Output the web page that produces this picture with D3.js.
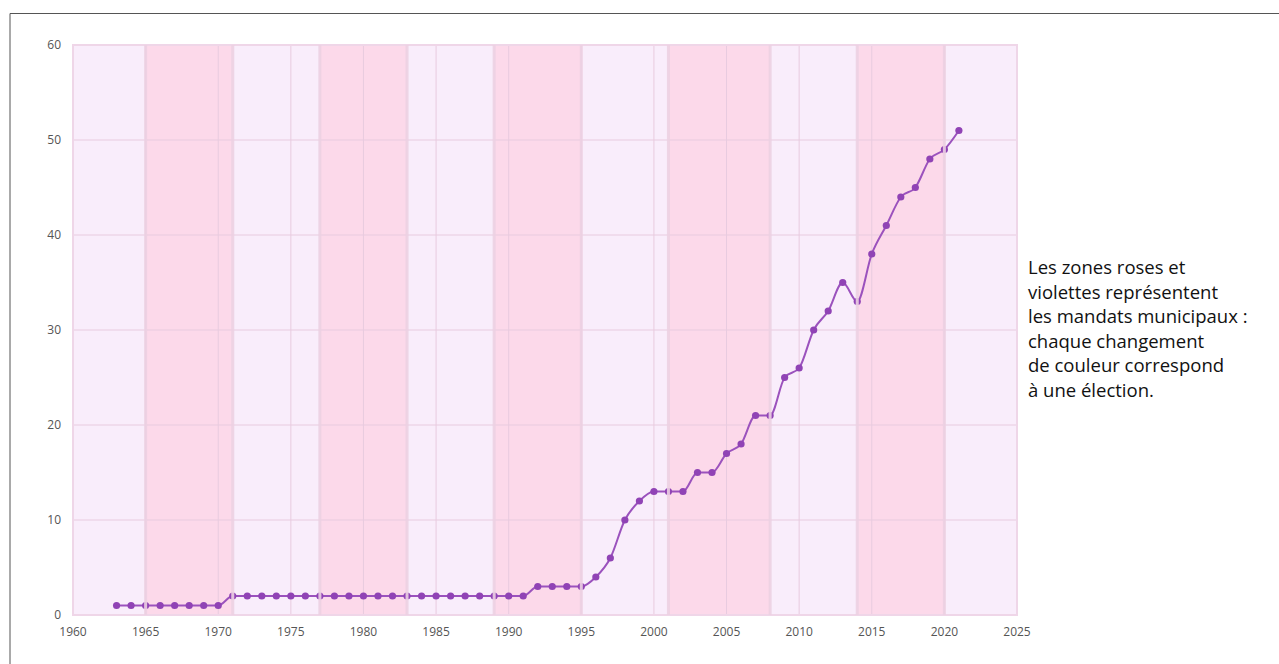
<!DOCTYPE html>
<html>
<head>
<meta charset="utf-8">
<script src="https://cdn.jsdelivr.net/npm/d3@7"></script>
<style>
  body { margin: 0; background: #fff; }
  svg { display: block; }
</style>
</head>
<body>
<div class="chart"></div>
<script>
// data
const years = d3.range(1963, 2022)
const values = [1, 1, 1, 1, 1, 1, 1, 1, 2, 2, 2, 2, 2, 2, 2, 2, 2, 2, 2, 2, 2, 2, 2, 2, 2, 2, 2, 2, 2,
    3, 3, 3, 3, 4, 6, 10, 12, 13, 13, 13, 15, 15, 17, 18, 21, 21, 25, 26, 30, 32, 35, 33, 38, 41, 44, 45, 48, 49, 51]
// municipal mandates : start year of each band
const bandStarts = [1960, 1965, 1971, 1977, 1983, 1989, 1995, 2001, 2008, 2014, 2020]
const bandEnds = [1965, 1971, 1977, 1983, 1989, 1995, 2001, 2008, 2014, 2020, 2025]
const xTicks = d3.range(1960, 2026, 5)
const yTicks = [0, 10, 20, 30, 40, 50, 60]
const noteLines = [
    "Les zones roses et",
    "violettes représentent",
    "les mandats municipaux :",
    "chaque changement",
    "de couleur correspond",
    "à une élection."
]

let width = 1279
let height = 664
let margin = {top: 45, left: 73, right: 262, bottom: 49}

let svg = d3.select(".chart")
    .append("svg")
    .attr("width", width)
    .attr("height", height)

// outer frame
svg.append("path")
    .attr("d", "M10,664 L10,13.5 L1279,13.5")
    .attr("fill", "none")
    .attr("stroke", "#555")
    .attr("stroke-width", 1)

let x = d3.scaleLinear()
    .domain([1960, 2025])
    .range([margin.left, width - margin.right])

let y = d3.scaleLinear()
    .domain([0, 60])
    .range([height - margin.bottom, margin.top])

let bands = bandStarts.map((s, i) => ({start: s, end: bandEnds[i], pink: i % 2 === 1}))

// background bands
svg.selectAll(".band")
    .data(bands)
    .enter()
    .append("rect")
    .attr("x", d => x(d.start))
    .attr("y", y(60))
    .attr("width", d => x(d.end) - x(d.start))
    .attr("height", y(0) - y(60))
    .attr("fill", d => d.pink ? "#fcd9ea" : "#f9edfb")

// grid
svg.append("g")
    .selectAll("line")
    .data(yTicks)
    .enter()
    .append("line")
    .attr("x1", x(1960))
    .attr("x2", x(2025))
    .attr("y1", d => y(d))
    .attr("y2", d => y(d))
    .attr("stroke", "#e8cbdf")
    .attr("stroke-width", 1)

svg.append("g")
    .selectAll("line")
    .data(xTicks)
    .enter()
    .append("line")
    .attr("x1", d => x(d))
    .attr("x2", d => x(d))
    .attr("y1", y(0))
    .attr("y2", y(60))
    .attr("stroke", "#e8cbdf")
    .attr("stroke-width", 1)

// plot border
svg.append("rect")
    .attr("x", x(1960))
    .attr("y", y(60))
    .attr("width", x(2025) - x(1960))
    .attr("height", y(0) - y(60))
    .attr("fill", "none")
    .attr("stroke", "#efd6e8")
    .attr("stroke-width", 2)

// the line
let line = d3.line()
    .x((d, i) => x(years[i]))
    .y(d => y(d))
    .curve(d3.curveMonotoneX)

svg.append("path")
    .datum(values)
    .attr("d", line)
    .attr("fill", "none")
    .attr("stroke", "#9b52bd")
    .attr("stroke-width", 2)

svg.selectAll(".dot")
    .data(values)
    .enter()
    .append("circle")
    .attr("cx", (d, i) => x(years[i]))
    .attr("cy", d => y(d))
    .attr("r", 3.6)
    .attr("fill", "#9043b5")

// band boundaries drawn over the series (it looks cut there)
svg.selectAll(".edge")
    .data(bandStarts.slice(1))
    .enter()
    .append("rect")
    .attr("x", d => x(d) - 1.5)
    .attr("y", y(60))
    .attr("width", 3)
    .attr("height", y(0) - y(60))
    .attr("fill", "#ecd0e2")
    .attr("opacity", 0.9)

// axes labels
svg.append("g")
    .selectAll("text")
    .data(yTicks)
    .enter()
    .append("text")
    .attr("x", x(1960) - 12)
    .attr("y", d => y(d) + 4)
    .attr("text-anchor", "end")
    .style("font-family", "'Open Sans', sans-serif")
    .style("font-size", "12px")
    .style("fill", "#555")
    .text(d => d)

svg.append("g")
    .selectAll("text")
    .data(xTicks)
    .enter()
    .append("text")
    .attr("x", d => x(d))
    .attr("y", y(0) + 21)
    .attr("text-anchor", "middle")
    .style("font-family", "'Open Sans', sans-serif")
    .style("font-size", "12px")
    .style("fill", "#555")
    .text(d => d)

// note on the right
svg.append("g")
    .selectAll("text")
    .data(noteLines)
    .enter()
    .append("text")
    .attr("x", 1028)
    .attr("y", (d, i) => 274 + i * 24.6)
    .style("font-family", "'Open Sans', sans-serif")
    .style("font-size", "18.5px")
    .style("fill", "#111")
    .text(d => d)
</script>
</body>
</html>
